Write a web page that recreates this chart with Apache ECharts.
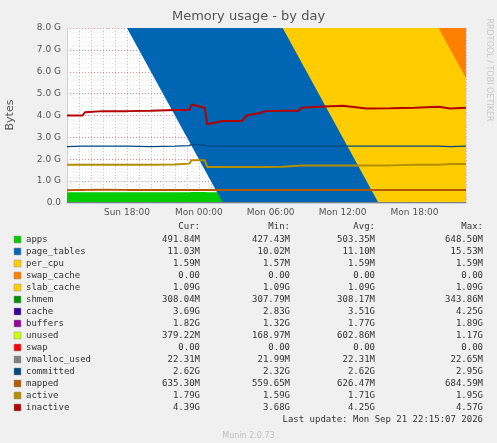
<!DOCTYPE html>
<html>
<head>
<meta charset="utf-8">
<script src="https://cdn.jsdelivr.net/npm/echarts@6/dist/echarts.min.js"></script>
<style>
html, body { margin: 0; padding: 0; background: #F0F0F0; }
#main { width: 497px; height: 443px; }
</style>
</head>
<body>
<div id="main"></div>
<script>
// hours since Sun 00:00
var hours = [13, 14.3, 14.5, 16, 18, 20, 22, 23.2, 23.4, 24.5, 24.7, 26, 27.6, 28, 29, 29.6, 31, 32.3, 32.6, 34, 36, 38, 40, 42, 44, 45, 46.3];

// stacked areas (GB)
var apps = [0.49, 0.49, 0.49, 0.49, 0.49, 0.49, 0.49, 0.49, 0.5, 0.5, 0.49, 0.49, 0.49, 0.49, 0.49, 0.49, 0.49, 0.49, 0.49, 0.49, 0.49, 0.49, 0.49, 0.49, 0.49, 0.49, 0.49];
var pageTables = [0.011, 0.011, 0.011, 0.011, 0.011, 0.011, 0.011, 0.011, 0.011, 0.011, 0.011, 0.011, 0.011, 0.011, 0.011, 0.011, 0.011, 0.011, 0.011, 0.011, 0.011, 0.011, 0.011, 0.011, 0.011, 0.011, 0.011];
var perCpu = [0.0016, 0.0016, 0.0016, 0.0016, 0.0016, 0.0016, 0.0016, 0.0016, 0.0016, 0.0016, 0.0016, 0.0016, 0.0016, 0.0016, 0.0016, 0.0016, 0.0016, 0.0016, 0.0016, 0.0016, 0.0016, 0.0016, 0.0016, 0.0016, 0.0016, 0.0016, 0.0016];
var swapCache = [0, 0, 0, 0, 0, 0, 0, 0, 0, 0, 0, 0, 0, 0, 0, 0, 0, 0, 0, 0, 0, 0, 0, 0, 0, 0, 0];
var slabCache = [1.09, 1.09, 1.09, 1.09, 1.09, 1.09, 1.09, 1.09, 1.2, 1.2, 1.09, 1.09, 1.09, 1.09, 1.09, 1.09, 1.09, 1.09, 1.09, 1.09, 1.09, 1.09, 1.09, 1.09, 1.09, 1.09, 1.09];
var shmem = [0.31, 0.31, 0.31, 0.31, 0.31, 0.31, 0.31, 0.31, 0.25, 0.25, 0.31, 0.31, 0.31, 0.31, 0.31, 0.31, 0.31, 0.31, 0.31, 0.31, 0.31, 0.31, 0.31, 0.31, 0.31, 0.31, 0.31];
var cache = [3.1, 3.1, 3.55, 3.6, 3.6, 3.6, 3.65, 3.65, 4.2, 3.8, 2.9, 2.95, 2.95, 3.15, 3.3, 3.4, 3.4, 3.4, 3.6, 3.6, 3.65, 3.6, 3.6, 3.6, 3.65, 3.65, 3.65];
var buffers = [1.85, 1.88, 1.55, 1.52, 1.55, 1.58, 1.55, 1.57, 1.35, 1.7, 1.8, 1.85, 1.87, 1.85, 1.85, 1.8, 1.82, 1.85, 1.8, 1.85, 1.85, 1.85, 1.85, 1.85, 1.85, 1.83, 1.85];
var unused = [0.9, 0.87, 0.75, 0.73, 0.7, 0.67, 0.65, 0.63, 0.2, 0.25, 1.15, 1.05, 1.03, 0.85, 0.7, 0.65, 0.63, 0.6, 0.45, 0.4, 0.35, 0.4, 0.4, 0.4, 0.35, 0.37, 0.35];
var swap = [0, 0, 0, 0, 0, 0, 0, 0, 0, 0, 0, 0, 0, 0, 0, 0, 0, 0, 0, 0, 0, 0, 0, 0, 0, 0, 0];

// lines (GB)
var vmallocUsed = [0.022, 0.022, 0.022, 0.022, 0.022, 0.022, 0.022, 0.022, 0.022, 0.022, 0.022, 0.022, 0.022, 0.022, 0.022, 0.022, 0.022, 0.022, 0.022, 0.022, 0.022, 0.022, 0.022, 0.022, 0.022, 0.022, 0.022];
var committed = [2.58, 2.6, 2.6, 2.6, 2.6, 2.58, 2.6, 2.62, 2.68, 2.65, 2.6, 2.6, 2.6, 2.6, 2.6, 2.6, 2.6, 2.6, 2.6, 2.6, 2.6, 2.6, 2.6, 2.6, 2.6, 2.58, 2.6];
var mapped = [0.58, 0.6, 0.6, 0.61, 0.6, 0.6, 0.6, 0.6, 0.6, 0.6, 0.6, 0.6, 0.6, 0.6, 0.6, 0.6, 0.6, 0.6, 0.6, 0.6, 0.6, 0.6, 0.6, 0.6, 0.6, 0.6, 0.6];
var active = [1.75, 1.75, 1.75, 1.75, 1.75, 1.75, 1.76, 1.8, 1.95, 1.95, 1.65, 1.65, 1.65, 1.65, 1.65, 1.65, 1.66, 1.7, 1.72, 1.72, 1.72, 1.72, 1.72, 1.75, 1.75, 1.78, 1.78];
var inactive = [4.0, 4.0, 4.15, 4.2, 4.2, 4.22, 4.25, 4.25, 4.5, 4.35, 3.6, 3.75, 3.75, 4.0, 4.1, 4.2, 4.22, 4.22, 4.35, 4.4, 4.45, 4.32, 4.33, 4.35, 4.4, 4.32, 4.35];

var xTickLabels = { 18: "Sun 18:00", 24: "Mon 00:00", 30: "Mon 06:00", 36: "Mon 12:00", 42: "Mon 18:00" };

// legend table
var legNames = ["apps", "page_tables", "per_cpu", "swap_cache", "slab_cache", "shmem", "cache", "buffers", "unused", "swap", "vmalloc_used", "committed", "mapped", "active", "inactive"];
var legColors = ["#00CC00", "#0066B3", "#FFCC00", "#FF8000", "#FFCC00", "#008F00", "#330099", "#990099", "#CCFF00", "#FF0000", "#808080", "#00487D", "#B35A00", "#B38F00", "#B30000"];
var legCur = ["491.84M", "11.03M", "1.59M", "0.00", "1.09G", "308.04M", "3.69G", "1.82G", "379.22M", "0.00", "22.31M", "2.62G", "635.30M", "1.79G", "4.39G"];
var legMin = ["427.43M", "10.02M", "1.57M", "0.00", "1.09G", "307.79M", "2.83G", "1.32G", "168.97M", "0.00", "21.99M", "2.32G", "559.65M", "1.59G", "3.68G"];
var legAvg = ["503.35M", "11.10M", "1.59M", "0.00", "1.09G", "308.17M", "3.51G", "1.77G", "602.86M", "0.00", "22.31M", "2.62G", "626.47M", "1.71G", "4.25G"];
var legMax = ["648.50M", "15.53M", "1.59M", "0.00", "1.09G", "343.86M", "4.25G", "1.89G", "1.17G", "0.00", "22.65M", "2.95G", "684.59M", "1.95G", "4.57G"];

function pairs(arr) {
    var out = [];
    for (var i = 0; i < hours.length; i++) out.push([hours[i], arr[i]]);
    return out;
}

var stackDefs = [[apps, 0], [pageTables, 1], [perCpu, 2], [swapCache, 3], [slabCache, 4], [shmem, 5], [cache, 6], [buffers, 7], [unused, 8], [swap, 9]];
var lineDefs = [[vmallocUsed, 10, 1], [committed, 11, 1.3], [mapped, 12, 2], [active, 13, 2], [inactive, 14, 2]];

var series = [];
stackDefs.forEach(function (d) {
    series.push({
        name: legNames[d[1]], type: "line", stack: "mem", data: pairs(d[0]),
        symbol: "none", lineStyle: { width: 0 },
        areaStyle: { color: legColors[d[1]], opacity: 1 }, z: 2
    });
});
lineDefs.forEach(function (d) {
    series.push({
        name: legNames[d[1]], type: "line", data: pairs(d[0]),
        symbol: "none",
        lineStyle: { width: d[2], color: legColors[d[1]] }, z: 3
    });
});

var mono = "DejaVu Sans Mono";
var font9 = "9px " + mono;
var graphics = [
    { type: "text", left: "center", top: 10, style: { text: "Memory usage - by day", font: "13px DejaVu Sans", fill: "#555" } },
    { type: "text", x: 10, y: 115, rotation: Math.PI / 2, style: { text: "Bytes", font: "11px DejaVu Sans", fill: "#555", align: "center", verticalAlign: "middle" } },
    { type: "text", x: 489, y: 70, rotation: -Math.PI / 2, style: { text: "RRDTOOL / TOBI OETIKER", font: "8px DejaVu Sans", fill: "#c8c8c8", align: "center", verticalAlign: "middle" } },
    { type: "text", x: 483, y: 420, style: { text: "Last update: Mon Sep 21 22:15:07 2026", font: font9, fill: "#333", align: "right", verticalAlign: "middle" } },
    { type: "text", left: "center", top: 432, style: { text: "Munin 2.0.73", font: "8px DejaVu Sans", fill: "#c0c0c0" } }
];
var headX = [200, 290, 375, 483];
var headText = ["Cur:", "Min:", "Avg:", "Max:"];
for (var k = 0; k < 4; k++) {
    graphics.push({ type: "text", x: headX[k], y: 227, style: { text: headText[k], font: font9, fill: "#333", align: "right", verticalAlign: "middle" } });
}
for (var i = 0; i < legNames.length; i++) {
    var y = 240 + i * 12;
    var cols = [legCur[i], legMin[i], legAvg[i], legMax[i]];
    graphics.push({ type: "rect", shape: { x: 14, y: y - 4, width: 7, height: 7 }, style: { fill: legColors[i], stroke: "#999", lineWidth: 0.5 } });
    graphics.push({ type: "text", x: 26, y: y, style: { text: legNames[i], font: font9, fill: "#333", verticalAlign: "middle" } });
    for (var c = 0; c < 4; c++) {
        graphics.push({ type: "text", x: headX[c], y: y, style: { text: cols[c], font: font9, fill: "#333", align: "right", verticalAlign: "middle" } });
    }
}

var myChart = echarts.init(document.getElementById("main"), null, { renderer: "canvas" });
myChart.setOption({
    backgroundColor: "#F0F0F0",
    animation: false,
    grid: { left: 67, right: 31, top: 28, bottom: 240, backgroundColor: "#ffffff", show: true, borderWidth: 0 },
    xAxis: {
        type: "value", min: 13, max: 46.3, interval: 1,
        axisLine: { show: true, lineStyle: { color: "#c8d0e8" } },
        axisTick: { show: false },
        axisLabel: {
            color: "#555", fontSize: 9, fontFamily: "DejaVu Sans", margin: 5,
            showMinLabel: false, showMaxLabel: false,
            formatter: function (v) { return xTickLabels[v] || ""; }
        },
        splitLine: { show: true, lineStyle: { color: "#f0b0b0", type: [1, 2], width: 1 } }
    },
    yAxis: {
        type: "value", min: 0, max: 8, interval: 1,
        axisLine: { show: true, lineStyle: { color: "#c8d0e8" } },
        axisTick: { show: false },
        axisLabel: {
            color: "#555", fontSize: 9, fontFamily: "DejaVu Sans", margin: 6,
            formatter: function (v) { return v === 0 ? "0.0" : v.toFixed(1) + " G"; }
        },
        splitLine: { show: true, lineStyle: { color: "#ff8080", type: [1, 2], width: 1 } },
        minorTick: { show: false, splitNumber: 5 },
        minorSplitLine: { show: true, lineStyle: { color: "#e8e8e8", type: [1, 2] } }
    },
    series: series,
    graphic: graphics
});
</script>
</body>
</html>
